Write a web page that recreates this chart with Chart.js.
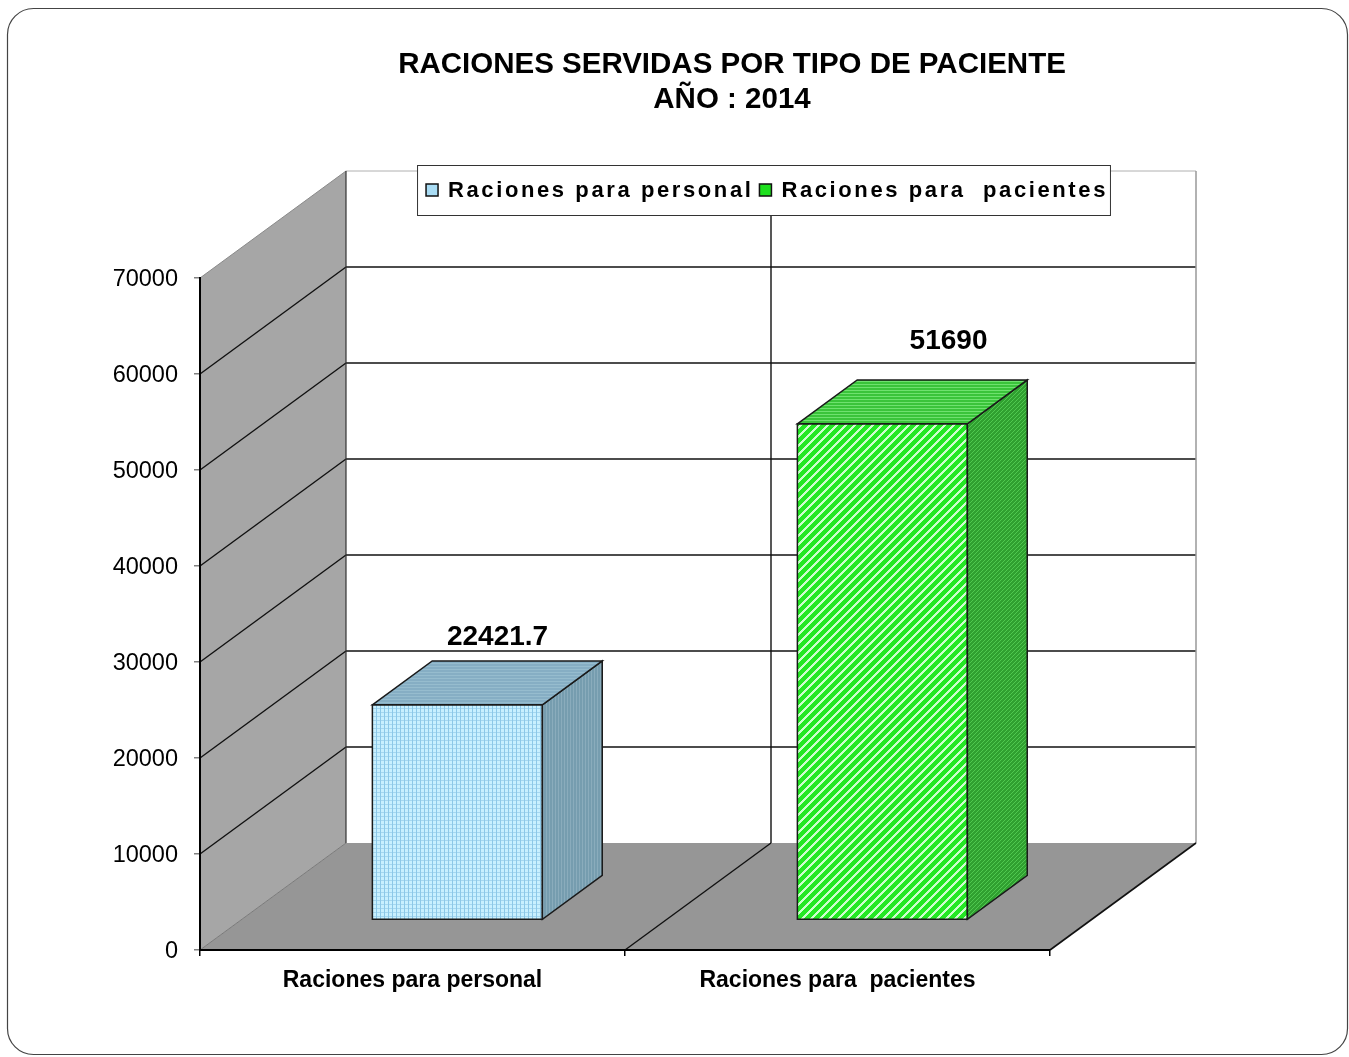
<!DOCTYPE html>
<html><head><meta charset="utf-8">
<script src="https://cdn.jsdelivr.net/npm/chart.js@4.4.1/dist/chart.umd.min.js"></script>
<style>html,body{margin:0;padding:0;background:#fff;}#wrap{width:1349px;height:1057px;position:relative;}</style>
</head><body><div id="wrap"><canvas id="c"></canvas></div>
<script>
// ---- data ----
const titleLines = ["RACIONES SERVIDAS POR TIPO DE PACIENTE", "AÑO : 2014"];
const categories = ["Raciones para personal", "Raciones para  pacientes"];
const seriesNames = ["Raciones para personal", "Raciones para  pacientes"];
const personalValues = [22421.7, null];
const pacientesValues = [null, 51690];
const yTickValues = [0, 10000, 20000, 30000, 40000, 50000, 60000, 70000];

// ---- style ----
const FONT = "'Liberation Sans', Arial, sans-serif";
const DX = 146, DY = 107;       // full depth offset of the 3D box
const F0 = 0.28, F1 = 0.69;     // bar depth range (fraction of depth)
const BAR_SHIFT = 4;

function makePattern(w, h, fn) {
  const c = document.createElement('canvas'); c.width = w; c.height = h;
  const g = c.getContext('2d'); const img = g.createImageData(w, h);
  for (let y = 0; y < h; y++) for (let x = 0; x < w; x++) {
    const col = fn(x, y); const i = (y * w + x) * 4;
    img.data[i] = col[0]; img.data[i+1] = col[1]; img.data[i+2] = col[2]; img.data[i+3] = 255;
  }
  g.putImageData(img, 0, 0);
  return document.getElementById('c').getContext('2d').createPattern(c, 'repeat');
}
const pat = {
  blueFront: makePattern(4, 4, (x, y) => (x === 0) ? [140, 200, 232] : (y === 0 ? [165, 215, 240] : [200, 240, 255])),
  blueSide: makePattern(3, 3, (x, y) => (x === 0) ? [138, 172, 188] : [118, 157, 175]),
  blueTop: makePattern(3, 3, (x, y) => (y === 0) ? [150, 188, 206] : [134, 174, 196]),
  greenFront: makePattern(9, 9, (x, y) => ((x + y) % 9) < 3 ? [205, 255, 205] : [36, 232, 36]),
  greenSide: makePattern(4, 4, (x, y) => ((x + y) % 4) < 1 ? [80, 200, 80] : [48, 160, 48]),
  greenTop: makePattern(3, 3, (x, y) => (y === 0) ? [110, 225, 110] : [58, 196, 58])
};
const barStyles = [
  { front: pat.blueFront, side: pat.blueSide, top: pat.blueTop, marker: '#a9dcf4' },
  { front: pat.greenFront, side: pat.greenSide, top: pat.greenTop, marker: '#1ee01e' }
];

function poly(ctx, pts, fill, stroke, lw) {
  ctx.beginPath(); ctx.moveTo(pts[0][0], pts[0][1]);
  for (let i = 1; i < pts.length; i++) ctx.lineTo(pts[i][0], pts[i][1]);
  ctx.closePath();
  if (fill) { ctx.fillStyle = fill; ctx.fill(); }
  if (stroke) { ctx.strokeStyle = stroke; ctx.lineWidth = lw || 1; ctx.stroke(); }
}
function line(ctx, x1, y1, x2, y2, color, lw) {
  ctx.beginPath(); ctx.moveTo(x1, y1); ctx.lineTo(x2, y2);
  ctx.strokeStyle = color; ctx.lineWidth = lw; ctx.stroke();
}

const scene3d = {
  id: 'scene3d',
  beforeDraw(chart) {
    const ctx = chart.ctx, a = chart.chartArea, ys = chart.scales.y, xs = chart.scales.x;
    const L = a.left, R = a.right, T = ys.getPixelForValue(ys.max), B = ys.getPixelForValue(0);
    ctx.save();
    ctx.beginPath(); ctx.roundRect(7.5, 8.5, 1340, 1046, 26);
    ctx.fillStyle = '#fff'; ctx.fill(); ctx.strokeStyle = '#444'; ctx.lineWidth = 1.2; ctx.stroke();
    poly(ctx, [[L+DX, T-DY], [R+DX, T-DY], [R+DX, B-DY], [L+DX, B-DY]], '#fff');
    poly(ctx, [[L, T], [L+DX, T-DY], [L+DX, B-DY], [L, B]], '#a6a6a6');
    poly(ctx, [[L, B], [L+DX, B-DY], [R+DX, B-DY], [R, B]], '#969696');
    yTickValues.forEach(v => {
      const y = ys.getPixelForValue(v);
      if (v === 0) return;
      const top = v === ys.max;
      line(ctx, L, y, L+DX, y-DY, top ? '#8a8a8a' : '#111', top ? 1 : 1.4);
      line(ctx, L+DX, y-DY, R+DX, y-DY, top ? '#b0b0b0' : '#111', top ? 1 : 1.4);
    });
    line(ctx, L, B, L+DX, B-DY, '#7a7a7a', 1);
    line(ctx, L+DX, T-DY, L+DX, B-DY, '#333', 1.2);
    line(ctx, R+DX, T-DY, R+DX, B-DY, '#999', 1.5);
    line(ctx, R, B, R+DX, B-DY, '#111', 1.6);
    for (let i = 1; i < categories.length; i++) {
      const xb = (xs.getPixelForValue(i-1) + xs.getPixelForValue(i)) / 2;
      line(ctx, xb+DX, T-DY, xb+DX, B-DY, '#111', 1.4);
      line(ctx, xb, B, xb+DX, B-DY, '#111', 1.4);
    }
    ctx.restore();
  },
  afterDatasetsDraw(chart) {
    const ctx = chart.ctx;
    ctx.save();
    chart.data.datasets.forEach((ds, di) => {
      const meta = chart.getDatasetMeta(di), st = barStyles[di];
      meta.data.forEach((el, i) => {
        if (ds.data[i] == null) return;
        const p = el.getProps(['x', 'y', 'base', 'width'], true);
        const x0 = p.x - p.width/2 + F0*DX + BAR_SHIFT, x1 = x0 + p.width;
        const yt = p.y - F0*DY, yb = p.base - F0*DY;
        const ddx = (F1-F0)*DX, ddy = (F1-F0)*DY;
        poly(ctx, [[x0, yt], [x1, yt], [x1, yb], [x0, yb]], st.front, '#1a1a1a', 1.5);
        poly(ctx, [[x1, yt], [x1+ddx, yt-ddy], [x1+ddx, yb-ddy], [x1, yb]], st.side, '#1a1a1a', 1.5);
        poly(ctx, [[x0, yt], [x0+ddx, yt-ddy], [x1+ddx, yt-ddy], [x1, yt]], st.top, '#1a1a1a', 1.5);
      });
    });
    ctx.restore();
  },
  afterDraw(chart) {
    const ctx = chart.ctx, a = chart.chartArea;
    ctx.save();
    ctx.fillStyle = '#000'; ctx.font = 'bold 28px ' + FONT;
    ctx.textAlign = 'center'; ctx.textBaseline = 'middle';
    chart.data.datasets.forEach((ds, di) => {
      chart.getDatasetMeta(di).data.forEach((el, i) => {
        const v = ds.data[i]; if (v == null) return;
        const rel = el.x - a.left;
        const shift = 4 * (1 - rel / (a.right - a.left));
        ctx.fillText(String(v), el.x + 0.466*DX + 0.0659*rel + shift, el.y - 0.846*DY - 0.0353*rel + 1);
      });
    });
    ctx.font = 'bold 29.5px ' + FONT;
    ctx.fillText(titleLines[0], 732, 65);
    ctx.fillText(titleLines[1], 732, 100);
    ctx.font = 'bold 22px ' + FONT;
    ctx.letterSpacing = '2.6px';
    const widths = seriesNames.map(s => ctx.measureText(s).width);
    const padL = 9, mk = 12, gapMT = 10, gapItem = 6, padR = 2;
    let total = padL + padR;
    widths.forEach((w, i) => { total += mk + gapMT + w + (i < widths.length-1 ? gapItem : 0); });
    const bx = 763.5 - total/2, by = 165, bh = 50;
    ctx.fillStyle = '#fff'; ctx.fillRect(bx, by, total, bh);
    ctx.strokeStyle = '#333'; ctx.lineWidth = 1; ctx.strokeRect(bx + 0.5, by + 0.5, total, bh);
    let cx = bx + padL; const cy = by + bh/2;
    ctx.textAlign = 'left';
    seriesNames.forEach((s, i) => {
      ctx.fillStyle = barStyles[i].marker; ctx.fillRect(cx, cy - 6, mk, mk);
      ctx.strokeStyle = '#111'; ctx.lineWidth = 1.5; ctx.strokeRect(cx, cy - 6, mk, mk);
      cx += mk + gapMT;
      ctx.fillStyle = '#000'; ctx.fillText(s, cx, cy + 1);
      cx += widths[i] + gapItem;
    });
    ctx.letterSpacing = '0px';
    ctx.restore();
  }
};

Chart.defaults.font.family = FONT;
new Chart(document.getElementById('c'), {
  type: 'bar',
  data: {
    labels: categories,
    datasets: [
      { label: seriesNames[0], data: personalValues, backgroundColor: 'rgba(0,0,0,0)', borderWidth: 0 },
      { label: seriesNames[1], data: pacientesValues, backgroundColor: 'rgba(0,0,0,0)', borderWidth: 0 }
    ]
  },
  options: {
    responsive: true, maintainAspectRatio: false, animation: false,
    skipNull: true,
    datasets: { bar: { barPercentage: 0.4, categoryPercentage: 1 } },
    layout: { padding: { left: 100, right: 299, top: 278, bottom: 47 } },
    plugins: { legend: { display: false }, title: { display: false }, tooltip: { enabled: false } },
    scales: {
      x: {
        afterFit(s) { s.height = 60; },
        grid: { drawOnChartArea: false, drawTicks: true, tickLength: 6, color: '#000', lineWidth: 1.5, offset: true },
        border: { display: true, color: '#000', width: 2 },
        ticks: { color: '#000', font: { size: 23, weight: 'bold' }, padding: 11, maxRotation: 0, autoSkip: false }
      },
      y: {
        min: 0, max: 70000,
        afterFit(s) { s.width = 100; },
        afterBuildTicks(s) { s.ticks = yTickValues.map(v => ({ value: v })); },
        grid: { drawOnChartArea: false, drawTicks: true, tickLength: 6, color: '#808080', lineWidth: 1.5 },
        border: { display: true, color: '#000', width: 2 },
        ticks: { color: '#000', font: { size: 23.5 }, padding: 16, labelOffset: 2, callback: v => String(v) }
      }
    }
  },
  plugins: [scene3d]
});
</script></body></html>
